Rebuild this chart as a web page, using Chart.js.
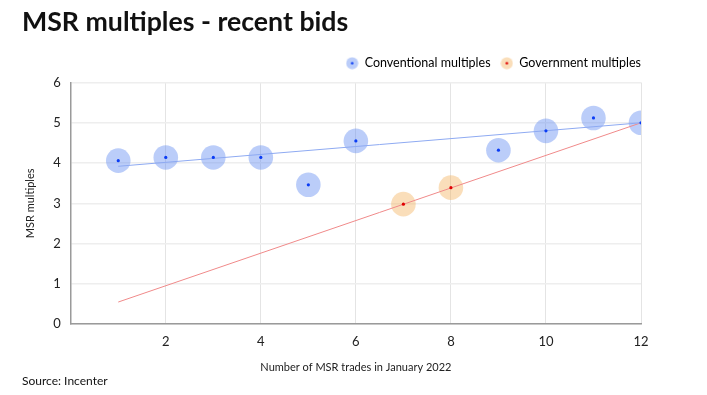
<!DOCTYPE html>
<html>
<head>
<meta charset="utf-8">
<script src="https://cdn.jsdelivr.net/npm/chart.js@4/dist/chart.umd.min.js"></script>
<style>
    html, body { margin: 0; padding: 0; background: #fff; }
    #wrap { position: relative; width: 707px; height: 395px; font-family: Lato, sans-serif; }
    #chart { position: absolute; left: 0; top: 0; }
    .title { position: absolute; left: 22px; top: 5px; font-size: 26.7px; font-weight: bold; color: #111; }
    .source { position: absolute; left: 22px; top: 373px; font-size: 12px; color: #111; }
</style>
</head>
<body>
<div id="wrap">
    <canvas id="chart" width="707" height="395"></canvas>
    <div class="title">MSR multiples - recent bids</div>
    <div class="source">Source: Incenter</div>
</div>
<script>
// ========== 数据 ==========
const conventionalX = [1, 2, 3, 4, 5, 6, 9, 10, 11, 12];
const conventionalY = [4.06, 4.14, 4.14, 4.14, 3.46, 4.55, 4.32, 4.80, 5.12, 5.0];
const governmentX = [7, 8];
const governmentY = [2.98, 3.39];

// 趋势线端点
const convTrendX = [1, 12];
const convTrendY = [3.92, 5.0];
const govTrendX = [1, 12];
const govTrendY = [0.55, 5.0];

const xTicks = [2, 4, 6, 8, 10, 12];
const yTicks = [0, 1, 2, 3, 4, 5, 6];

const toPoints = (xs, ys) => xs.map((x, i) => ({ x: x, y: ys[i] }));

// 颜色
const convFill = 'rgba(92, 137, 240, 0.42)';
const convDot = '#0a3cf5';
const convLine = '#8eaaf2';
const govFill = 'rgba(242, 172, 82, 0.40)';
const govDot = '#e00000';
const govLine = '#f08a8a';

// 图例标记：大圆 + 中心小点
function legendMarker(fill, dot) {
    const c = document.createElement('canvas');
    c.width = 13; c.height = 13;
    const g = c.getContext('2d');
    g.fillStyle = fill;
    g.beginPath(); g.arc(6.5, 6.5, 6, 0, Math.PI * 2); g.fill();
    g.fillStyle = dot;
    g.beginPath(); g.arc(6.5, 6.5, 1.3, 0, Math.PI * 2); g.fill();
    return c;
}

// 图例微调：下方多留一点空，整体右移
const legendTweak = {
    id: 'legendTweak',
    beforeLayout(chart) {
        const l = chart.legend;
        if (l && !l._patched) {
            const fit = l.fit.bind(l);
            l.fit = function () { fit(); this.height += 3; };
            l._patched = true;
        }
    },
    afterLayout(chart) {
        const l = chart.legend;
        if (l) { l.left += 10; l.right += 10; }
    }
};

const ctx = document.getElementById('chart').getContext('2d');
new Chart(ctx, {
    type: 'scatter',
    plugins: [legendTweak],
    data: {
        datasets: [
            // 中心小点（最上层）
            { data: toPoints(conventionalX, conventionalY), pointRadius: 1.6, pointBackgroundColor: convDot, pointBorderWidth: 0, showLine: false },
            { data: toPoints(governmentX, governmentY), pointRadius: 1.6, pointBackgroundColor: govDot, pointBorderWidth: 0, showLine: false },
            // 趋势线
            { data: toPoints(convTrendX, convTrendY), showLine: true, borderColor: convLine, borderWidth: 1, pointRadius: 0 },
            { data: toPoints(govTrendX, govTrendY), showLine: true, borderColor: govLine, borderWidth: 1, pointRadius: 0 },
            // 大圆
            { label: 'Conventional multiples', data: toPoints(conventionalX, conventionalY), pointRadius: 12.3, pointBackgroundColor: convFill, pointBorderWidth: 0, showLine: false },
            { label: 'Government multiples', data: toPoints(governmentX, governmentY), pointRadius: 12.3, pointBackgroundColor: govFill, pointBorderWidth: 0, showLine: false }
        ]
    },
    options: {
        responsive: false,
        animation: false,
        layout: { padding: { top: 47, left: 20, right: 66, bottom: 17 } },
        plugins: {
            tooltip: { enabled: false },
            legend: {
                position: 'top',
                align: 'end',
                labels: {
                    usePointStyle: true,
                    boxWidth: 13,
                    boxHeight: 13,
                    padding: 10,
                    color: '#222',
                    font: { family: 'Lato', size: 12.5 },
                    generateLabels: () => [
                        { text: 'Conventional multiples', pointStyle: legendMarker(convFill, convDot), fillStyle: convFill, strokeStyle: 'transparent', lineWidth: 0, datasetIndex: 4 },
                        { text: 'Government multiples', pointStyle: legendMarker(govFill, govDot), fillStyle: govFill, strokeStyle: 'transparent', lineWidth: 0, datasetIndex: 5 }
                    ]
                }
            }
        },
        scales: {
            x: {
                type: 'linear',
                min: 0,
                max: 12,
                afterBuildTicks: axis => { axis.ticks = xTicks.map(v => ({ value: v })); },
                ticks: { color: '#222', font: { family: 'Lato', size: 13 }, padding: 10 },
                grid: { color: '#e4e4e4', drawTicks: false },
                border: { color: '#9a9a9a', width: 1.5 },
                title: { display: true, text: 'Number of MSR trades in January 2022', color: '#222', font: { family: 'Lato', size: 11 }, padding: { top: 1 } }
            },
            y: {
                min: 0,
                max: 6,
                afterBuildTicks: axis => { axis.ticks = yTicks.map(v => ({ value: v })); },
                ticks: { color: '#222', font: { family: 'Lato', size: 13 }, padding: 10 },
                grid: { color: '#eeeeee', lineWidth: 1.5, drawTicks: false },
                border: { color: '#9a9a9a', width: 1.5 },
                title: { display: true, text: 'MSR multiples', color: '#222', font: { family: 'Lato', size: 11 }, padding: { bottom: 6 } }
            }
        }
    }
});
</script>
</body>
</html>
